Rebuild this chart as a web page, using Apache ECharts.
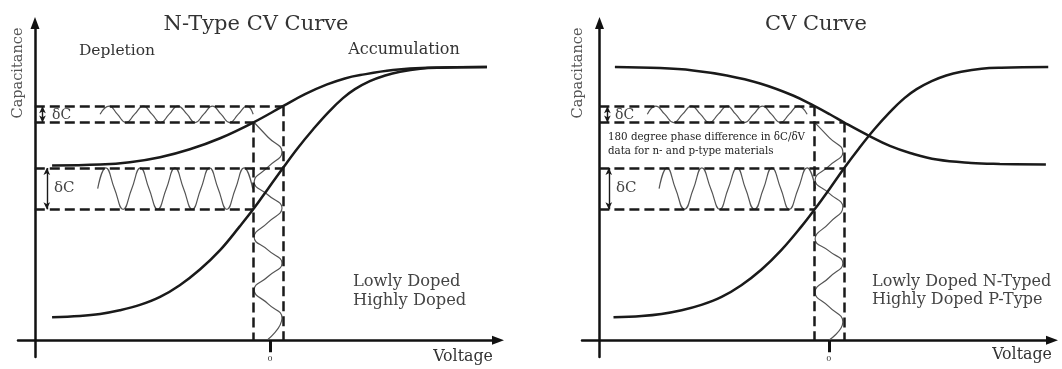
<!DOCTYPE html>
<html><head><meta charset="utf-8">
<script src="https://cdn.jsdelivr.net/npm/echarts@6/dist/echarts.min.js"></script>
<style>html,body{margin:0;padding:0;background:#fff}#chart{width:1062px;height:369px}</style>
</head><body><div id="chart"></div>
<script>
// ---------- shared labels ----------
const panelTitles = ['N-Type CV Curve', 'CV Curve'];
const xAxisName = 'Voltage';
const yAxisName = 'Capacitance';
const voltageTicks = [0];
const regionLabels = ['Depletion', 'Accumulation'];
const legendLeft = ['Lowly Doped', 'Highly Doped'];
const legendRight = ['Lowly Doped N-Typed', 'Highly Doped P-Type'];
const noteLines = ['180 degree phase difference in \u03B4C/\u03B4V', 'data for n- and p-type materials'];
const deltaLabel = '\u03B4C';

// ---------- left panel: N-type CV curve [Voltage, Capacitance] ----------
const nLowlyDoped = [[-4.54,5.23],[-3.54,5.26],[-2.92,5.33],[-2.29,5.48],[-1.67,5.72],[-1.04,6.05],[-0.35,6.52],[0.27,7.01],[0.73,7.37],[1.19,7.66],[1.56,7.84],[1.88,7.94],[2.56,8.09],[3.27,8.16],[4.52,8.18]];
const nHighlyDoped = [[-4.54,0.69],[-3.96,0.73],[-3.54,0.79],[-3.13,0.90],[-2.71,1.06],[-2.29,1.30],[-1.88,1.65],[-1.46,2.12],[-1.04,2.70],[-0.63,3.41],[-0.35,3.92],[-0.04,4.54],[0.27,5.16],[0.58,5.76],[0.90,6.32],[1.21,6.82],[1.52,7.25],[1.77,7.52],[2.08,7.76],[2.40,7.93],[2.71,8.04],[3.13,8.13],[3.54,8.16],[4.52,8.18]];
const nSmallWave = [[-3.54,6.77],[-3.35,7.01],[-3.18,6.77],[-3.00,6.52],[-2.82,6.77],[-2.64,7.01],[-2.46,6.77],[-2.28,6.52],[-2.10,6.77],[-1.92,7.01],[-1.73,6.77],[-1.56,6.52],[-1.38,6.77],[-1.20,7.01],[-1.02,6.77],[-0.84,6.52],[-0.66,6.77],[-0.48,7.01],[-0.35,6.77]];
const nLargeWave = [[-3.59,4.54],[-3.42,5.16],[-3.24,4.54],[-3.06,3.92],[-2.88,4.54],[-2.70,5.16],[-2.52,4.54],[-2.34,3.92],[-2.16,4.54],[-1.98,5.16],[-1.80,4.54],[-1.62,3.92],[-1.44,4.54],[-1.26,5.16],[-1.08,4.54],[-0.90,3.92],[-0.72,4.54],[-0.54,5.16],[-0.36,4.54]];
const nBiasWave = [[-0.33,6.52],[-0.04,6.08],[0.25,5.64],[-0.04,5.19],[-0.33,4.74],[-0.04,4.35],[0.25,3.96],[-0.04,3.53],[-0.33,3.09],[-0.04,2.70],[0.25,2.31],[-0.04,1.91],[-0.33,1.51],[-0.04,1.09],[0.25,0.67],[-0.04,0.03]];
const nLevels = [7.01, 6.52, 5.16, 3.92];     // capacitance levels of the dashed boxes
const nBiasEdges = [-0.35, 0.27];             // voltage swing edges
const nDashStart = -4.90;                     // voltage at the capacitance axis
const nArrowV = [-4.74, -4.65];

// ---------- right panel: CV curve, n vs p type ----------
const pLowlyDopedN = [[-4.55,8.18],[-3.59,8.15],[-2.89,8.08],[-2.17,7.93],[-1.46,7.69],[-0.76,7.33],[-0.30,7.01],[0.03,6.76],[0.33,6.52],[0.86,6.12],[1.30,5.82],[1.73,5.61],[2.30,5.41],[3.03,5.31],[3.64,5.28],[4.62,5.26]];
const pHighlyDopedP = [[-4.58,0.69],[-3.98,0.73],[-3.56,0.79],[-3.13,0.90],[-2.71,1.06],[-2.28,1.30],[-1.86,1.65],[-1.43,2.12],[-1.01,2.70],[-0.58,3.41],[-0.30,3.92],[0.02,4.54],[0.33,5.16],[0.65,5.76],[0.97,6.32],[1.29,6.82],[1.61,7.25],[1.87,7.52],[2.19,7.76],[2.50,7.93],[2.82,8.04],[3.25,8.13],[3.67,8.16],[4.67,8.18]];
const pSmallWave = [[-3.86,6.77],[-3.68,7.01],[-3.49,6.77],[-3.30,6.52],[-3.11,6.77],[-2.92,7.01],[-2.73,6.77],[-2.54,6.52],[-2.35,6.77],[-2.16,7.01],[-1.98,6.77],[-1.79,6.52],[-1.60,6.77],[-1.41,7.01],[-1.22,6.77],[-1.03,6.52],[-0.84,6.77],[-0.65,7.01],[-0.46,6.77]];
const pLargeWave = [[-3.61,4.54],[-3.44,5.16],[-3.26,4.54],[-3.07,3.92],[-2.88,4.54],[-2.70,5.16],[-2.51,4.54],[-2.32,3.92],[-2.14,4.54],[-1.95,5.16],[-1.77,4.54],[-1.58,3.92],[-1.39,4.54],[-1.21,5.16],[-1.02,4.54],[-0.84,3.92],[-0.65,4.54],[-0.46,5.16],[-0.28,4.54]];
const pBiasWave = [[-0.29,6.51],[0.01,6.07],[0.30,5.64],[0.01,5.22],[-0.29,4.80],[0.01,4.40],[0.30,3.99],[0.01,3.51],[-0.29,3.03],[0.01,2.67],[0.30,2.31],[0.01,1.88],[-0.29,1.44],[0.01,1.00],[0.30,0.55],[0.01,0.01]];
const pLevels = [7.01, 6.52, 5.16, 3.92];
const pBiasEdges = [-0.30, 0.33];
const pDashStart = -4.88;
const pArrowV = [-4.71, -4.68];

// ---------- styling ----------
const INK = '#1a1a1a';
const WAVE = '#555';
const FONT = '"DejaVu Serif", serif';

function axisPair(idx) {
  return {
    x: {
      gridIndex: idx, type: 'value', min: -5.25, max: 4.75,
      axisLine: { show: true, onZero: true, symbol: ['none', 'triangle'], symbolSize: [9, 12],
        lineStyle: { color: '#111', width: 2.5 } },
      axisTick: { show: true, customValues: voltageTicks, length: 12, lineStyle: { color: '#111', width: 3 } },
      axisLabel: { show: true, customValues: voltageTicks, margin: -2, fontSize: 8, color: '#333', fontFamily: FONT },
      splitLine: { show: false }
    },
    y: {
      gridIndex: idx, type: 'value', min: -0.5, max: 9.5, offset: idx === 0 ? -17 : -17.5,
      axisLine: { show: true, onZero: false, symbol: ['none', 'triangle'], symbolSize: [9, 12],
        lineStyle: { color: '#111', width: 2.5 } },
      axisTick: { show: false }, axisLabel: { show: false }, splitLine: { show: false }
    }
  };
}
const ax0 = axisPair(0), ax1 = axisPair(1);

function curve(name, data, idx, extra) {
  return Object.assign({
    name, type: 'line', xAxisIndex: idx, yAxisIndex: idx, data, smooth: 0.4,
    symbol: 'none', silent: true, lineStyle: { color: INK, width: 2.5 }, z: 3
  }, extra || {});
}
function wave(name, data, idx) {
  return {
    name, type: 'line', xAxisIndex: idx, yAxisIndex: idx, data, smooth: true,
    symbol: 'none', silent: true, lineStyle: { color: WAVE, width: 1.2 }, z: 2
  };
}
function dashSegments(levels, edges, start, rightLayout) {
  const eTopTop = rightLayout ? edges[0] : edges[1];
  const eTopBot = rightLayout ? edges[1] : edges[0];
  const eLowTop = edges[1];
  const eLowBot = edges[0];
  return [
    [[start, levels[0]], [eTopTop, levels[0]]],
    [[start, levels[1]], [eTopBot, levels[1]]],
    [[start, levels[2]], [eLowTop, levels[2]]],
    [[start, levels[3]], [eLowBot, levels[3]]],
    [[eTopTop, levels[0]], [eTopTop, 0]],
    [[eTopBot, levels[1]], [eTopBot, 0]]
  ];
}
function dashML(segs) {
  return {
    silent: true, symbol: ['none', 'none'], label: { show: false }, animation: false,
    emphasis: { disabled: true },
    lineStyle: { type: [10, 5], width: 2.5, color: INK },
    data: segs.map(s => [{ coord: s[0] }, { coord: s[1] }])
  };
}
function arrowML(arrowV, levels) {
  return {
    silent: true, symbol: ['arrow', 'arrow'], symbolSize: [5, 7], label: { show: false }, animation: false,
    emphasis: { disabled: true },
    lineStyle: { type: 'solid', width: 1.4, color: INK },
    data: [
      [{ coord: [arrowV[0], levels[0]] }, { coord: [arrowV[0], levels[1]] }],
      [{ coord: [arrowV[1], levels[2]] }, { coord: [arrowV[1], levels[3]] }]
    ]
  };
}

function txt(text, x, y, size, opts) {
  opts = opts || {};
  return {
    type: 'text', x, y, rotation: opts.rot || 0, silent: true,
    style: {
      text, font: size + 'px ' + FONT, fill: opts.color || '#333',
      align: opts.align || 'center', verticalAlign: 'middle',
      textAlign: opts.align || 'center', textVerticalAlign: 'middle'
    }
  };
}

const option = {
  animation: false,
  backgroundColor: '#fff',
  grid: [
    { left: 18, top: 23, width: 480, height: 334, outerBoundsMode: 'none' },
    { left: 582, top: 23, width: 470, height: 334, outerBoundsMode: 'none' }
  ],
  xAxis: [ax0.x, ax1.x],
  yAxis: [ax0.y, ax1.y],
  series: [
    curve(legendLeft[0], nLowlyDoped, 0, { markLine: dashML(dashSegments(nLevels, nBiasEdges, nDashStart, false)) }),
    curve(legendLeft[1], nHighlyDoped, 0, { markLine: arrowML(nArrowV, nLevels) }),
    wave('small response', nSmallWave, 0),
    wave('large response', nLargeWave, 0),
    wave('ac bias', nBiasWave, 0),
    curve(legendRight[0], pLowlyDopedN, 1, { markLine: dashML(dashSegments(pLevels, pBiasEdges, pDashStart, true)) }),
    curve(legendRight[1], pHighlyDopedP, 1, { markLine: arrowML(pArrowV, pLevels) }),
    wave('small response p', pSmallWave, 1),
    wave('large response p', pLargeWave, 1),
    wave('ac bias p', pBiasWave, 1)
  ],
  graphic: [
    txt(panelTitles[0], 256, 25, 21),
    txt(regionLabels[0], 117, 51, 15.5),
    txt(regionLabels[1], 404, 50, 16),
    txt(yAxisName, 18, 73, 14.5, { rot: Math.PI / 2, color: '#555' }),
    txt(deltaLabel, 52, 115, 14, { align: 'left', color: '#444' }),
    txt(deltaLabel, 54, 188, 15, { align: 'left', color: '#444' }),
    txt(legendLeft[0], 353, 282, 16.3, { align: 'left', color: '#444' }),
    txt(legendLeft[1], 353, 301, 16.3, { align: 'left', color: '#444' }),
    txt(xAxisName, 463, 357, 15.8),

    txt(panelTitles[1], 816, 25, 21),
    txt(yAxisName, 578, 73, 14.5, { rot: Math.PI / 2, color: '#555' }),
    txt(deltaLabel, 615, 115, 14, { align: 'left', color: '#444' }),
    txt(deltaLabel, 616, 188, 15, { align: 'left', color: '#444' }),
    txt(noteLines[0], 608, 137, 10.3, { align: 'left', color: '#222' }),
    txt(noteLines[1], 608, 151, 10.3, { align: 'left', color: '#222' }),
    txt(legendRight[0], 872, 282, 16, { align: 'left', color: '#444' }),
    txt(legendRight[1], 872, 300, 16, { align: 'left', color: '#444' }),
    txt(xAxisName, 1022, 355, 15.8)
  ]
};
const chart = echarts.init(document.getElementById('chart'), null, { renderer: 'canvas' });
chart.setOption(option);
</script></body></html>
